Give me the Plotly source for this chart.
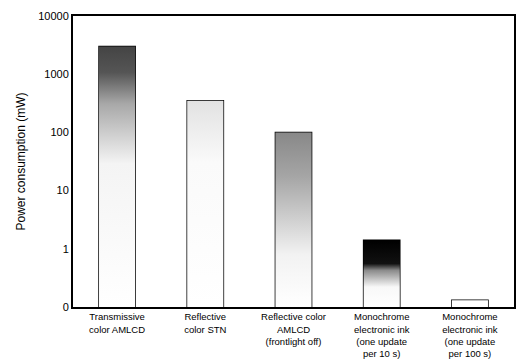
import plotly.graph_objects as go

categories = [
    "Transmissive<br>color AMLCD",
    "Reflective<br>color STN",
    "Reflective color<br>AMLCD<br>(frontlight off)",
    "Monochrome<br>electronic ink<br>(one update<br>per 10 s)",
    "Monochrome<br>electronic ink<br>(one update<br>per 100 s)",
]
power_mw = [3000, 350, 100, 1.4, 0.13]
tick_vals = [0.1, 1, 10, 100, 1000, 10000]
tick_text = ["0", "1", "10", "100", "1000", "10000"]

# visual shading (gradient from bottom=0 to top=1) for each bar
shading = [
    [[0, "#ffffff"], [0.55, "#f4f4f4"], [0.78, "#a8a8a8"], [0.9, "#555555"], [1, "#444444"]],
    [[0, "#ffffff"], [0.7, "#fafafa"], [1, "#e2e2e2"]],
    [[0, "#ffffff"], [0.3, "#f2f2f2"], [0.75, "#a5a5a5"], [1, "#888888"]],
    [[0, "#ffffff"], [0.3, "#f8f8f8"], [0.55, "#8a8a8a"], [0.65, "#111111"], [1, "#000000"]],
    [[0, "#ffffff"], [1, "#ffffff"]],
]
base_val = 0.1
half_w = 0.205

fig = go.Figure()
for i, (v, cs) in enumerate(zip(power_mw, shading)):
    fig.add_trace(go.Scatter(
        x=[i - half_w, i + half_w, i + half_w, i - half_w, i - half_w],
        y=[base_val, base_val, v, v, base_val],
        mode="lines", line=dict(width=0, color="rgba(0,0,0,0)"),
        fill="toself",
        fillgradient=dict(type="vertical", colorscale=cs),
        hoverinfo="skip",
    ))

fig.add_trace(go.Bar(
    x=list(range(len(categories))),
    y=[v - base_val for v in power_mw],
    base=base_val,
    marker=dict(color="rgba(0,0,0,0)", line=dict(color="black", width=1.5)),
    width=2 * half_w,
))

fig.update_layout(
    width=517, height=363,
    margin=dict(l=73, r=3, t=16, b=56),
    paper_bgcolor="white", plot_bgcolor="white",
    showlegend=False,
    font=dict(family="Liberation Sans, Arial, sans-serif", color="black", size=10),
)
fig.update_xaxes(
    range=[-0.5, 4.5], automargin=False,
    tickvals=list(range(len(categories))), ticktext=categories,
    showline=True, linecolor="black", linewidth=2, mirror=True,
    ticks="", showgrid=False, zeroline=False, tickfont=dict(size=9.5), tickangle=0,
)
fig.update_yaxes(
    type="log", range=[-1, 4], automargin=False,
    tickvals=tick_vals, ticktext=tick_text,
    showline=True, linecolor="black", linewidth=2, mirror=True,
    ticks="", showgrid=False, zeroline=False,
    tickfont=dict(size=11),
    title=dict(text="Power consumption (mW)", font=dict(size=12), standoff=10),
)

fig.write_html(
    "out.html",
    config={"displayModeBar": False},
    post_script="document.body.style.margin='0';document.body.style.overflow='hidden';",
)
